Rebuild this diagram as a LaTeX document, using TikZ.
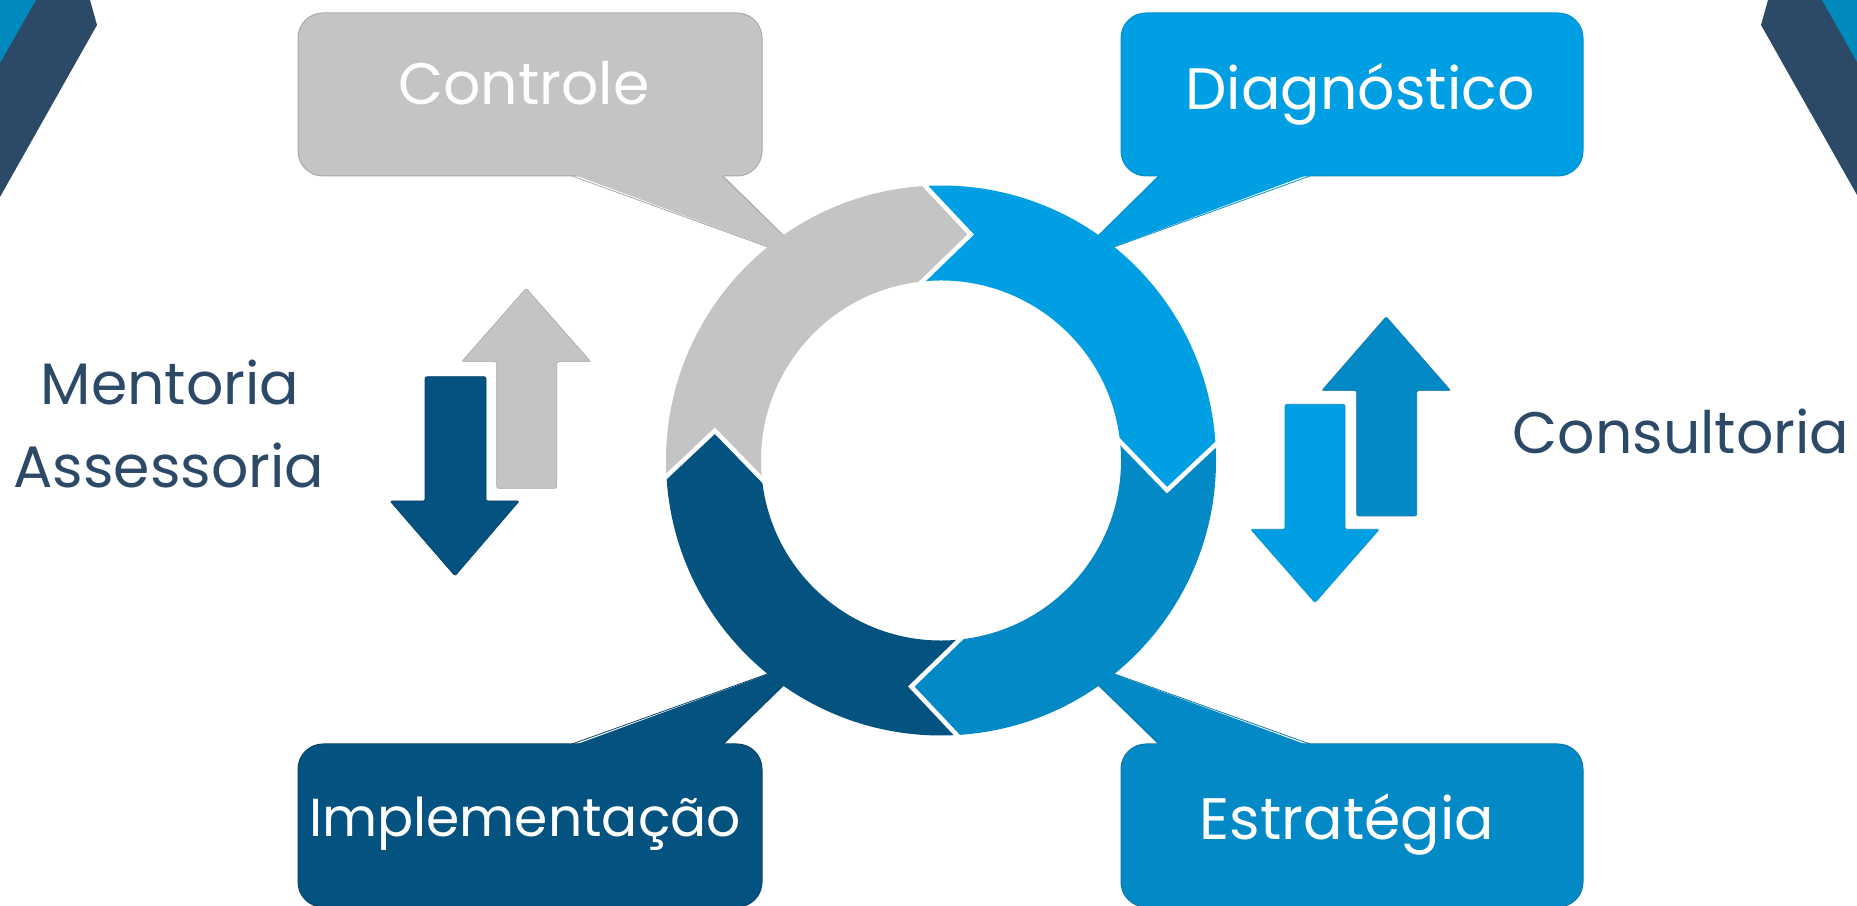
\documentclass[tikz,border=0pt]{standalone}
\usepackage{fontspec}
\setmainfont{Poppins}
\definecolor{cgrey}{HTML}{C4C4C4}
\definecolor{cgreyd}{HTML}{A9A9A9}
\definecolor{clight}{HTML}{009FE3}
\definecolor{clightd}{HTML}{0A8FC8}
\definecolor{cmid}{HTML}{0289C6}
\definecolor{cmidd}{HTML}{0A78AA}
\definecolor{cdark}{HTML}{03527F}
\definecolor{cdarkd}{HTML}{0A4468}
\definecolor{cnavy}{HTML}{2C4A67}
\definecolor{ccorner}{HTML}{0089BD}
\begin{document}
\begin{tikzpicture}[x=1pt,y=1pt,
  boxtext/.style={text=white, font=\fontsize{58.5}{70}\selectfont, anchor=base, inner sep=0pt},
  sidetext/.style={text=cnavy, font=\fontsize{58.5}{70}\selectfont, anchor=base, inner sep=0pt},
  calloutbox/.style={line width=1pt, rounded corners=25pt},
  gapline/.style={white, line width=4.5pt, shorten <=-6pt, shorten >=-6pt},
  blockarrow/.style={rounded corners=2pt, line width=0.6pt}]
\useasboundingbox (0,0) rectangle (1857,905);
\fill[white] (0,0) rectangle (1857,905);

% corner decorations
\fill[cnavy] (0,905) -- (90,905) -- (97,880) -- (0,708) -- cycle;
\fill[ccorner] (0,905) -- (36,905) -- (0,842) -- cycle;
\fill[cnavy] (1768,905) -- (1761,880) -- (1857,710) -- (1857,905) -- cycle;
\fill[ccorner] (1822,905) -- (1857,905) -- (1857,843) -- cycle;

% callouts
\filldraw[calloutbox, fill=cgrey, draw=cgreyd] (298,729) rectangle (762,892);
\fill[cgrey] (572,731) -- (812,642) -- (722,731) -- cycle;
\draw[cgreyd, line width=0.8pt] (572,729) -- (812,642) -- (722,729);

\filldraw[calloutbox, fill=clight, draw=clightd] (1121,729) rectangle (1583,892);
\fill[clight] (1160,731) -- (1070,642) -- (1310,731) -- cycle;
\draw[clightd, line width=0.8pt] (1160,729) -- (1070,642) -- (1310,729);

\filldraw[calloutbox, fill=cdark, draw=cdarkd] (298,-2) rectangle (762,161);
\fill[cdark] (572,159) -- (812,247) -- (722,159) -- cycle;
\draw[cdarkd, line width=0.8pt] (572,161) -- (812,247) -- (722,161);

\filldraw[calloutbox, fill=cmid, draw=cmidd] (1121,-2) rectangle (1583,161);
\fill[cmid] (1160,159) -- (1070,247) -- (1310,159) -- cycle;
\draw[cmidd, line width=0.8pt] (1160,161) -- (1070,247) -- (1310,161);

% ring
\begin{scope}[shift={(941,444.5)}]
\fill[cgrey] (183.3:275) arc[start angle=183.3, end angle=93.3, radius=275] -- (82.5:228) -- (96:180) arc[start angle=96, end angle=186, radius=180] -- (172.5:228) -- cycle;
\fill[clight] (93.3:275) arc[start angle=93.3, end angle=3.3, radius=275] -- (-7.5:228) -- (6:180) arc[start angle=6, end angle=96, radius=180] -- (82.5:228) -- cycle;
\fill[cmid] (3.3:275) arc[start angle=3.3, end angle=-86.7, radius=275] -- (-97.5:228) -- (-84:180) arc[start angle=-84, end angle=6, radius=180] -- (-7.5:228) -- cycle;
\fill[cdark] (-86.7:275) arc[start angle=-86.7, end angle=-176.7, radius=275] -- (-187.5:228) -- (-174:180) arc[start angle=-174, end angle=-84, radius=180] -- (-97.5:228) -- cycle;
\draw[gapline] (93.3:275) -- (82.5:228) -- (96:180);
\draw[gapline] (3.3:275) -- (-7.5:228) -- (6:180);
\draw[gapline] (-86.7:275) -- (-97.5:228) -- (-84:180);
\draw[gapline] (183.3:275) -- (172.5:228) -- (186:180);
\end{scope}

% block arrows
\filldraw[blockarrow, fill=cgrey, draw=cgreyd] (496.7,416.7) -- (496.7,543.3) -- (461.7,543.3) -- (526.2,616.7) -- (590.7,543.3) -- (556.7,543.3) -- (556.7,416.7) -- cycle;
\filldraw[blockarrow, fill=cdark, draw=cdarkd] (425,528.3) -- (486,528.3) -- (486,404) -- (519.3,404) -- (455,329) -- (390,404) -- (425,404) -- cycle;
\filldraw[blockarrow, fill=cmid, draw=cmidd] (1356.7,389) -- (1356.7,514.3) -- (1321.7,514.3) -- (1386.2,588.3) -- (1450.7,514.3) -- (1416.7,514.3) -- (1416.7,389) -- cycle;
\filldraw[blockarrow, fill=clight, draw=clightd] (1285,500.7) -- (1345,500.7) -- (1345,375.7) -- (1379.3,375.7) -- (1315,302.3) -- (1250.7,375.7) -- (1285,375.7) -- cycle;

% texts
\node[boxtext] (controle) at (524,800) {Controle};
\node[boxtext] (diag) at (1360,795) {Diagnóstico};
\node[boxtext, font=\fontsize{53.5}{64}\selectfont] (impl) at (525,69) {Implementação};
\node[boxtext] (estr) at (1347,66) {Estratégia};
\node[sidetext] (mentoria) at (170,500) {Mentoria};
\node[sidetext] (assess) at (169,417.3) {Assessoria};
\node[sidetext] (consult) at (1681,451.7) {Consultoria};
\end{tikzpicture}
\end{document}
